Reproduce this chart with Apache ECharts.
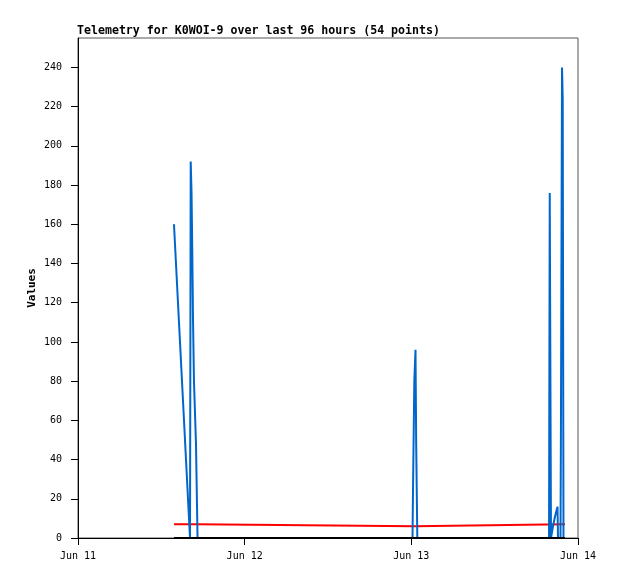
<!DOCTYPE html>
<html>
<head>
<meta charset="utf-8">
<script src="https://cdn.jsdelivr.net/npm/echarts@6/dist/echarts.min.js"></script>
<style>
html,body{margin:0;padding:0;background:#fff;}
#chart{width:618px;height:579px;}
</style>
</head>
<body>
<div id="chart"></div>
<script>
// x values are hours since Jun 11 00:00
var xTickLabels = ["Jun 11", "Jun 12", "Jun 13", "Jun 14"];

var blueHours = [13.82, 16.13, 16.23, 16.35, 16.46, 16.56, 16.70, 16.99, 17.14, 17.21,
                 48.17, 48.24, 48.43, 48.60, 48.70, 48.86,
                 67.83, 67.93, 68.02, 68.11, 68.40, 68.69, 69.05, 69.12, 69.48, 69.55, 69.70, 69.80, 69.91, 70.13];
var blueValues = [160, 0, 192, 176, 145, 112, 80, 48, 16, 0,
                  0, 24, 80, 96, 48, 0,
                  0, 176, 88, 0, 6, 11, 16, 0, 0, 64, 240, 224, 0, 0];

var redHours = [13.82, 17.14, 17.35, 48.43, 48.60, 70.13];
var redValues = [7, 7, 6, 6, 7, 7];

var blackHours = [13.82, 70.13];
var blackValues = [0, 0];

function pairs(xs, ys) {
  var out = [];
  for (var i = 0; i < xs.length; i++) out.push([xs[i], ys[i]]);
  return out;
}

var chart = echarts.init(document.getElementById('chart'), null, {renderer: 'canvas'});
var mono = "'DejaVu Sans Mono', 'Liberation Mono', monospace";
chart.setOption({
  animation: false,
  backgroundColor: '#ffffff',
  title: {
    text: 'Telemetry for K0WOI-9 over last 96 hours (54 points)',
    left: 77, top: 25, padding: 0,
    textStyle: {fontFamily: mono, fontWeight: 'bold', fontSize: 11.6, color: '#000'}
  },
  grid: {left: 78, right: 40, top: 38, bottom: 41, show: true, borderColor: '#555', borderWidth: 1, containLabel: false},
  xAxis: {
    type: 'value', min: 0, max: 72, interval: 24,
    axisLine: {show: true, lineStyle: {color: '#000', width: 1}},
    axisTick: {show: true, length: 7, lineStyle: {color: '#000'}},
    splitLine: {show: false},
    axisLabel: {
      fontFamily: mono, fontSize: 10, color: '#000', margin: 13,
      formatter: function (v) { return xTickLabels[Math.round(v / 24)]; }
    }
  },
  yAxis: {
    type: 'value', min: 0, max: 255, interval: 20,
    name: 'Values', nameLocation: 'middle', nameGap: 40, nameMoveOverlap: false,
    nameTextStyle: {fontFamily: mono, fontWeight: 'bold', fontSize: 11, color: '#000'},
    axisLine: {show: true, lineStyle: {color: '#000', width: 1}},
    axisTick: {show: true, length: 7, lineStyle: {color: '#000'}},
    splitLine: {show: false},
    axisLabel: {fontFamily: mono, fontSize: 10, color: '#000', margin: 16, showMaxLabel: false}
  },
  series: [
    {type: 'line', data: pairs(redHours, redValues), symbol: 'none', lineStyle: {color: '#ff0000', width: 2}, z: 2},
    {type: 'line', data: pairs(blueHours, blueValues), symbol: 'none', lineStyle: {color: '#0066cc', width: 2}, z: 3},
    {type: 'line', data: pairs(blackHours, blackValues), symbol: 'none', lineStyle: {color: '#000000', width: 2}, z: 4}
  ]
});
</script>
</body>
</html>
